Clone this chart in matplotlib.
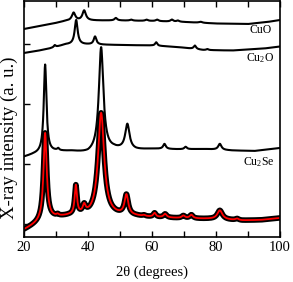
import numpy as np
import matplotlib.pyplot as plt

plt.rcParams['font.family'] = 'Liberation Serif'
plt.rcParams['mathtext.default'] = 'regular'

two_theta = np.linspace(20, 100, 1601)

# CuO reference pattern (top)
cuo_bg_x = [20, 25, 30, 33, 40, 50, 60, 70, 80, 90, 96, 100]
cuo_bg_y = [208, 211, 214, 216, 216.5, 216.5, 216, 215, 213.5, 213, 215, 217]
cuo_pos = [35.5, 38.8, 48.7, 53.5, 58.3, 61.6, 66.2, 68.1, 75.2]
cuo_h = [8, 10, 2.5, 1, 1.2, 1.5, 2, 1.2, 1]
cuo_w = [0.65, 0.65, 0.5, 0.5, 0.5, 0.5, 0.5, 0.5, 0.6]

# Cu2O reference pattern
cu2o_bg_x = [20, 24, 28, 33, 40, 50, 60, 68, 76, 85, 95, 100]
cu2o_bg_y = [184, 186, 188.5, 192.5, 192.5, 192, 191.5, 190, 187, 186.5, 188.5, 190.5]
cu2o_pos = [29.6, 36.3, 42.2, 61.3, 73.4, 77.3]
cu2o_h = [2, 24.5, 8, 3.5, 3.5, 1]
cu2o_w = [0.35, 0.55, 0.5, 0.4, 0.45, 0.4]

# Cu2Se reference pattern
cu2se_bg_x = [20, 23, 26, 30, 35, 40, 48, 55, 60, 70, 76, 85, 92, 100]
cu2se_bg_y = [80, 82.5, 84, 85.5, 85.5, 83.5, 87.5, 87, 88, 87.5, 88, 86.5, 86, 89]
cu2se_pos = [26.6, 30.7, 44.1, 52.3, 63.9, 70.5, 81.2]
cu2se_h = [88, 2, 104, 25, 5, 2.5, 6]
cu2se_w = [0.5, 0.35, 0.85, 0.8, 0.5, 0.5, 0.6]

# measured sample (black) and its fit (red)
samp_bg_x = [20, 22, 24, 26, 28, 31, 34, 40, 48, 55, 60, 70, 78, 88, 94, 100]
samp_bg_y = [7, 10, 13, 16, 18, 19.5, 20.5, 20.5, 21, 20.5, 19.5, 18.5, 18, 16.5, 17, 19]
samp_pos = [26.6, 30.5, 36.2, 38.8, 44.1, 52.0, 57.5, 60.8, 64.1, 69.8, 72.3, 81.2, 86.6]
samp_h = [87, 1.5, 29, 8, 103, 20, 1, 4, 3.5, 2.5, 3.5, 9, 1.5]
samp_w = [0.6, 0.4, 0.43, 0.55, 1.15, 0.7, 0.5, 0.5, 0.6, 0.6, 0.6, 0.95, 0.6]


def pattern(bg_x, bg_y, pos, h, w):
    y = np.interp(two_theta, bg_x, bg_y)
    for c, a, g in zip(pos, h, w):
        y = y + a / (1 + ((two_theta - c) / g) ** 2)
    return y


fig = plt.figure(figsize=(2.93, 2.82), dpi=100)
ax = fig.add_axes([24 / 293, 45 / 282, 256 / 293, 236 / 282])

ax.plot(two_theta, pattern(cuo_bg_x, cuo_bg_y, cuo_pos, cuo_h, cuo_w), color='black', lw=1.5)
ax.plot(two_theta, pattern(cu2o_bg_x, cu2o_bg_y, cu2o_pos, cu2o_h, cu2o_w), color='black', lw=1.5)
ax.plot(two_theta, pattern(cu2se_bg_x, cu2se_bg_y, cu2se_pos, cu2se_h, cu2se_w), color='black', lw=1.5)
sample = pattern(samp_bg_x, samp_bg_y, samp_pos, samp_h, samp_w)
ax.plot(two_theta, sample, color='black', lw=4.0)
ax.plot(two_theta, sample, color='red', lw=1.3)

ax.text(97.5, 203.7, 'CuO', ha='right', va='baseline', fontsize=8.5)
ax.text(98.2, 176, 'Cu$_2$O', ha='right', va='baseline', fontsize=8.5)
ax.text(98.2, 72, 'Cu$_2$Se', ha='right', va='baseline', fontsize=8.5)

ax.set_xlim(20, 100)
ax.set_ylim(0, 236)
ax.set_xticks([20, 40, 60, 80, 100])
ax.set_xticks([30, 50, 70, 90], minor=True)
ax.set_yticks([13, 73, 133, 193])
ax.set_yticklabels([])
ax.tick_params(which='both', direction='in', top=True, length=4, width=1, labelsize=10.5, pad=3)
for s in ax.spines.values():
    s.set_linewidth(1.2)

ax.set_xlabel('2θ (degrees)', fontsize=10.5, labelpad=8)
ax.set_ylabel('X-ray intensity (a. u.)', fontsize=13.5)
ax.yaxis.set_label_coords(-0.022, 0.42)

fig.savefig('out.png', dpi=100)
